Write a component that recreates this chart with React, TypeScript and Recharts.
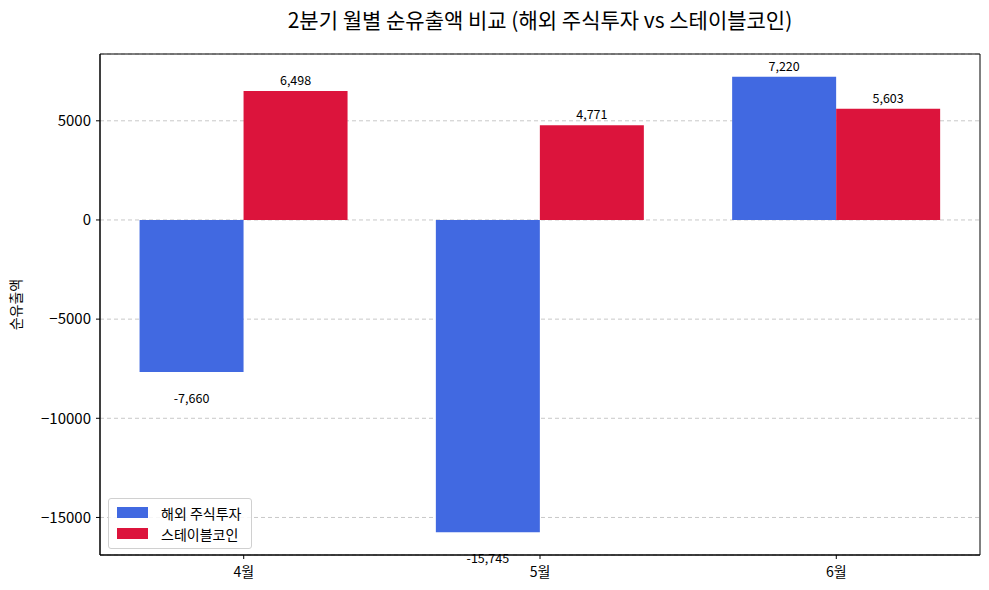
import React from "react";
import {
  BarChart,
  Bar,
  XAxis,
  YAxis,
  CartesianGrid,
  LabelList,
  ReferenceArea,
  Label,
} from "recharts";

const months = ["4월", "5월", "6월"];
const overseasStock = [-7660, -15745, 7220];
const stablecoin = [6498, 4771, 5603];
const yTicks = [-15000, -10000, -5000, 0, 5000];
const seriesNames = ["해외 주식투자", "스테이블코인"];

const FONT = "'Noto Sans CJK KR', 'Noto Sans', sans-serif";
const BLUE = "#4169E1";
const RED = "#DC143C";

// 막대 범위에 5% 여백
const X_DOMAIN: [number, number] = [-0.485, 2.485];
const Y_DOMAIN: [number, number] = [-16893, 8368];

const data = months.map((m, i) => ({
  x: i,
  month: m,
  stock: overseasStock[i],
  stable: stablecoin[i],
}));

const BarValueLabel = (props: any) => {
  const { x, y, width, height, value } = props;
  const top = Math.min(y, y + height);
  const bottom = Math.max(y, y + height);
  const cx = x + width / 2;
  const ty = value >= 0 ? top - 6 : bottom + 31;
  return (
    <text
      x={cx}
      y={ty}
      textAnchor="middle"
      fontSize={12.5}
      fontFamily={FONT}
      fill="#000"
    >
      {Number(value).toLocaleString("en-US")}
    </text>
  );
};

const LegendBox = () => (
  <div
    style={{
      position: "absolute",
      left: 108,
      top: 498,
      border: "1px solid #d0d0d0",
      borderRadius: 3,
      background: "rgba(255,255,255,0.85)",
      padding: "3px 8px 4px 8px",
      width: 126,
      fontSize: 14,
      color: "#000",
    }}
  >
    {[BLUE, RED].map((color, i) => (
      <div
        key={seriesNames[i]}
        style={{ display: "flex", alignItems: "center", height: 21 }}
      >
        <span
          style={{
            display: "inline-block",
            width: 31,
            height: 11,
            background: color,
            marginRight: 13,
          }}
        />
        <span>{seriesNames[i]}</span>
      </div>
    ))}
  </div>
);

const YLabel = (props: any) => {
  const { viewBox } = props;
  const cy = viewBox.y + viewBox.height / 2;
  return (
    <text
      x={15}
      y={cy}
      transform={`rotate(-90, 15, ${cy})`}
      textAnchor="middle"
      dominantBaseline="central"
      fontSize={14}
      fontFamily={FONT}
      fill="#000"
    >
      순유출액
    </text>
  );
};

export default function App() {
  return (
    <div
      style={{
        position: "absolute",
        left: 0,
        top: 0,
        width: 989,
        height: 590,
        background: "#fff",
        fontFamily: FONT,
      }}
    >
      <div
        style={{
          position: "absolute",
          left: 100,
          width: 880,
          top: 4,
          textAlign: "center",
          fontSize: 21,
          color: "#000",
        }}
      >
        2분기 월별 순유출액 비교 (해외 주식투자 vs 스테이블코인)
      </div>
      <BarChart
        width={989}
        height={590}
        data={data}
        margin={{ top: 54, right: 9, bottom: 0, left: 0 }}
        barGap={0}
      >
        <CartesianGrid
          vertical={false}
          stroke="#c8c8c8"
          strokeDasharray="4 3"
        />
        <XAxis
          dataKey="x"
          type="number"
          domain={X_DOMAIN}
          allowDataOverflow
          ticks={[0, 1, 2]}
          tickFormatter={(v: number) => months[v]}
          height={35}
          tickSize={4}
          tickMargin={8}
          stroke="#000"
          tick={{ fill: "#000", fontSize: 14, fontFamily: FONT }}
        />
        <YAxis
          type="number"
          domain={Y_DOMAIN}
          allowDataOverflow
          ticks={yTicks}
          width={100}
          tickSize={4}
          tickMargin={5}
          stroke="#000"
          tickFormatter={(v: number) => String(v).replace("-", "\u2212")}
          tick={{ fill: "#000", fontSize: 15, fontFamily: FONT }}
        >
          <Label content={<YLabel />} />
        </YAxis>
        <ReferenceArea
          x1={X_DOMAIN[0]}
          x2={X_DOMAIN[1]}
          y1={Y_DOMAIN[0]}
          y2={Y_DOMAIN[1]}
          fill="none"
          stroke="#000"
          strokeWidth={1}
          ifOverflow="visible"
        />
        <Bar
          dataKey="stock"
          name={seriesNames[0]}
          fill={BLUE}
          barSize={104}
          isAnimationActive={false}
        >
          <LabelList dataKey="stock" content={<BarValueLabel />} />
        </Bar>
        <Bar
          dataKey="stable"
          name={seriesNames[1]}
          fill={RED}
          barSize={104}
          isAnimationActive={false}
        >
          <LabelList dataKey="stable" content={<BarValueLabel />} />
        </Bar>
      </BarChart>
      <LegendBox />
    </div>
  );
}
